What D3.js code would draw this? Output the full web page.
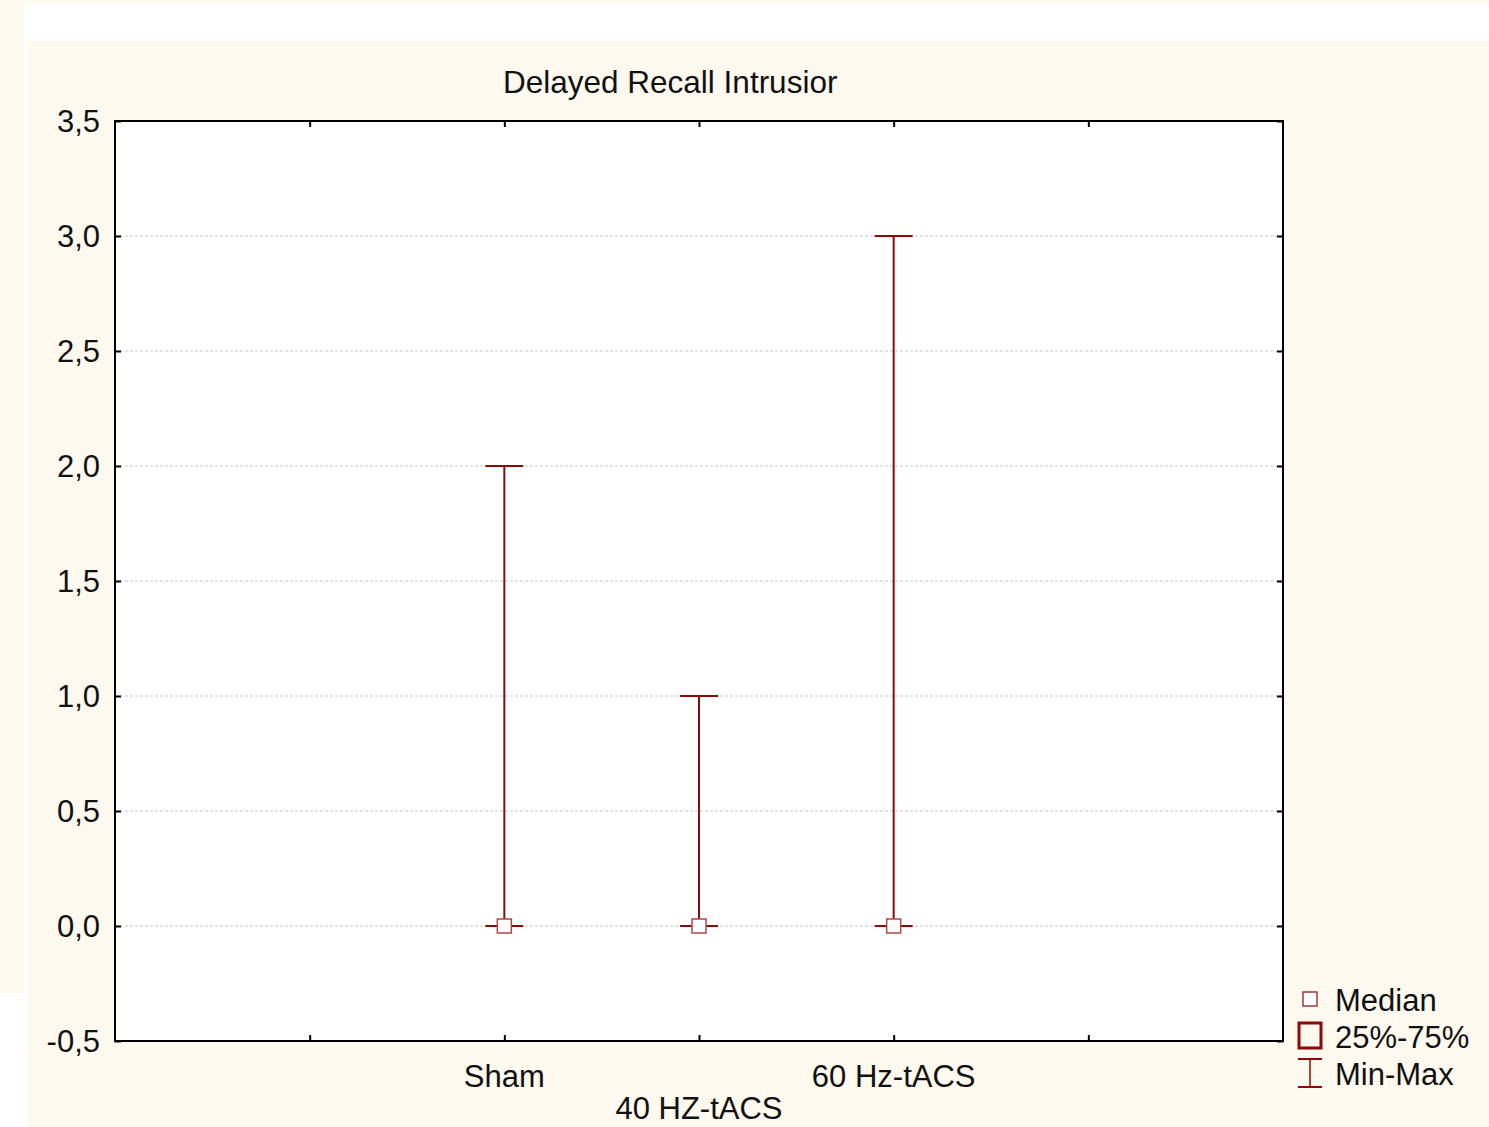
<!DOCTYPE html>
<html>
<head>
<meta charset="utf-8">
<script src="https://cdn.jsdelivr.net/npm/d3@7"></script>
<style>
  body { margin: 0; background: #ffffff; }
  svg { display: block; font-family: "Liberation Sans", Arial, sans-serif; }
</style>
</head>
<body>
<svg id="chart" width="1489" height="1127"></svg>
<script>
// data
var groups = ["Sham", "40 HZ-tACS", "60 Hz-tACS"];
var medians = [0, 0, 0];
var q1 = [0, 0, 0];
var q3 = [0, 0, 0];
var mins = [0, 0, 0];
var maxs = [2, 1, 3];
var yTicks = [-0.5, 0, 0.5, 1, 1.5, 2, 2.5, 3, 3.5];
var legendItems = ["Median", "25%-75%", "Min-Max"];

var svg = d3.select("#chart");
var width = 1489, height = 1127;
var cream = "#fef9ef", red = "#8b0a0a";

// page background pieces
svg.append("rect").attr("x", 0).attr("y", 0).attr("width", width).attr("height", 3).attr("fill", cream);
svg.append("rect").attr("x", 0).attr("y", 0).attr("width", 24).attr("height", 993).attr("fill", cream);
svg.append("rect").attr("x", 28).attr("y", 41).attr("width", width - 28).attr("height", height - 41).attr("fill", cream);

var m = { left: 115, right: 1283, top: 121, bottom: 1041 };

var x = d3.scaleLinear().domain([0, 6]).range([m.left, m.right]);
var y = d3.scaleLinear().domain([-0.5, 3.5]).range([m.bottom, m.top]);
var pos = function (i) { return x(i + 2); };

// plot area
svg.append("rect")
  .attr("x", m.left).attr("y", m.top)
  .attr("width", m.right - m.left).attr("height", m.bottom - m.top)
  .attr("fill", "#ffffff");

// gridlines
svg.append("g").selectAll("line")
  .data(yTicks.filter(function (d) { return d > -0.5 && d < 3.5; }))
  .enter().append("line")
  .attr("x1", m.left).attr("x2", m.right)
  .attr("y1", function (d) { return y(d); }).attr("y2", function (d) { return y(d); })
  .attr("stroke", "#c8c8c8").attr("stroke-width", 1)
  .attr("stroke-dasharray", "3,2");

// axes with inward ticks
var fmt = function (d) { return d3.format(".1f")(d).replace(".", ",").replace("−", "-"); };

var yAxisL = svg.append("g").attr("transform", "translate(" + m.left + ",0)")
  .call(d3.axisRight(y).tickValues(yTicks).tickSize(6).tickFormat(""));
var yAxisR = svg.append("g").attr("transform", "translate(" + m.right + ",0)")
  .call(d3.axisLeft(y).tickValues(yTicks).tickSize(6).tickFormat(""));
var xAxisB = svg.append("g").attr("transform", "translate(0," + m.bottom + ")")
  .call(d3.axisTop(x).tickValues([1, 2, 3, 4, 5]).tickSize(6).tickFormat(""));
var xAxisT = svg.append("g").attr("transform", "translate(0," + m.top + ")")
  .call(d3.axisBottom(x).tickValues([1, 2, 3, 4, 5]).tickSize(6).tickFormat(""));
[yAxisL, yAxisR, xAxisB, xAxisT].forEach(function (g) {
  g.select(".domain").remove();
  g.selectAll("line").attr("stroke", "#000").attr("stroke-width", 2);
});

svg.append("rect")
  .attr("x", m.left).attr("y", m.top)
  .attr("width", m.right - m.left).attr("height", m.bottom - m.top)
  .attr("fill", "none").attr("stroke", "#000").attr("stroke-width", 2);

// y tick labels
svg.append("g").selectAll("text")
  .data(yTicks)
  .enter().append("text")
  .attr("x", 100)
  .attr("y", function (d) { return y(d); })
  .attr("dy", "0.36em")
  .attr("text-anchor", "end")
  .attr("font-size", "31px")
  .attr("fill", "#111")
  .text(fmt);

// x labels (staggered)
svg.append("g").selectAll("text")
  .data(groups)
  .enter().append("text")
  .attr("x", function (d, i) { return pos(i); })
  .attr("y", function (d, i) { return i % 2 === 1 ? 1119 : 1087; })
  .attr("text-anchor", "middle")
  .attr("font-size", "31px")
  .attr("fill", "#111")
  .text(function (d) { return d; });

// title
svg.append("text")
  .attr("x", 503).attr("y", 93)
  .attr("font-size", "31.5px")
  .attr("fill", "#111")
  .text("Delayed Recall Intrusior");

// box plots
var half = 19, mh = 7;
var g = svg.append("g");
groups.forEach(function (name, i) {
  var cx = pos(i);
  g.append("line")
    .attr("x1", cx).attr("x2", cx)
    .attr("y1", y(maxs[i])).attr("y2", y(q3[i]))
    .attr("stroke", red).attr("stroke-width", 2);
  g.append("line")
    .attr("x1", cx).attr("x2", cx)
    .attr("y1", y(q1[i])).attr("y2", y(mins[i]))
    .attr("stroke", red).attr("stroke-width", 2);
  [maxs[i], mins[i]].forEach(function (v) {
    g.append("line")
      .attr("x1", cx - half).attr("x2", cx + half)
      .attr("y1", y(v)).attr("y2", y(v))
      .attr("stroke", red).attr("stroke-width", 2);
  });
  g.append("rect")
    .attr("x", cx - half).attr("y", y(q3[i]))
    .attr("width", half * 2).attr("height", Math.max(0, y(q1[i]) - y(q3[i])))
    .attr("fill", "none").attr("stroke", red).attr("stroke-width", 2);
  g.append("rect")
    .attr("x", cx - mh).attr("y", y(medians[i]) - mh)
    .attr("width", mh * 2).attr("height", mh * 2)
    .attr("fill", "#fff").attr("stroke", "#b04848").attr("stroke-width", 1.5);
});

// legend
var lx = 1310, lt = 1335;
var leg = svg.append("g");
leg.append("rect").attr("x", lx - 7).attr("y", 992).attr("width", 14).attr("height", 14)
  .attr("fill", "#fff").attr("stroke", "#a03a3a").attr("stroke-width", 1.5);
leg.append("rect").attr("x", lx - 11).attr("y", 1023).attr("width", 22).attr("height", 25)
  .attr("fill", "none").attr("stroke", red).attr("stroke-width", 3);
leg.append("line").attr("x1", lx).attr("x2", lx).attr("y1", 1059).attr("y2", 1087)
  .attr("stroke", red).attr("stroke-width", 1.5);
[1059, 1087].forEach(function (yy) {
  leg.append("line").attr("x1", lx - 12).attr("x2", lx + 12).attr("y1", yy).attr("y2", yy)
    .attr("stroke", red).attr("stroke-width", 2);
});
leg.selectAll("text.lbl")
  .data(legendItems)
  .enter().append("text")
  .attr("class", "lbl")
  .attr("x", lt)
  .attr("y", function (d, i) { return 1000 + i * 37; })
  .attr("dy", "0.36em")
  .attr("font-size", "31px")
  .attr("fill", "#111")
  .text(function (d) { return d; });
</script>
</body>
</html>
